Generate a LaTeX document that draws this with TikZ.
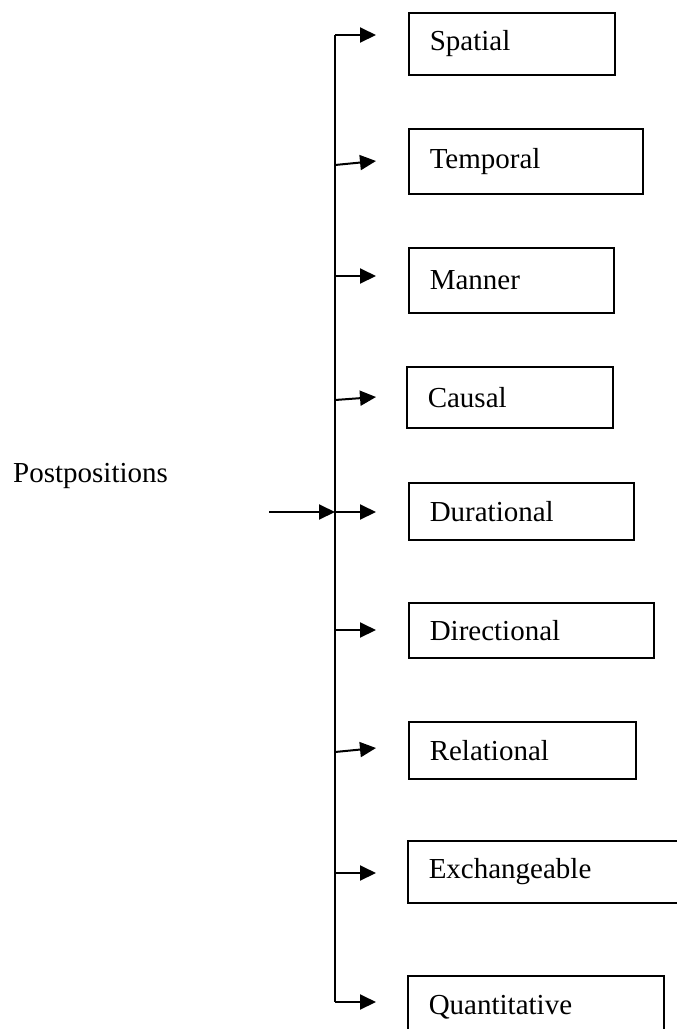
\documentclass[tikz,border=0pt]{standalone}
\usepackage{fontspec}
\setmainfont{Liberation Serif}
\usetikzlibrary{arrows.meta}
\tikzset{>={Triangle[length=16pt,width=15pt]}}
\tikzset{catbox/.style={draw, line width=1.5pt, anchor=north west, inner xsep=21pt, align=left, font=\fontsize{29}{35}\selectfont}}
\tikzset{link/.style={line width=2pt}}

\begin{document}
\begin{tikzpicture}[x=1pt,y=-1pt]
    \useasboundingbox (0,0) rectangle (677,1029);
    \node[catbox, text width=164pt, minimum height=62pt] (spatial) at (408,12) {Spatial};
    \node[catbox, text width=192pt, minimum height=65pt] (temporal) at (408,128) {Temporal};
    \node[catbox, text width=163pt, minimum height=65pt] (manner) at (408,247) {Manner};
    \node[catbox, text width=164pt, minimum height=61pt] (causal) at (406,366) {Causal};
    \node[catbox, text width=183pt, minimum height=57pt] (durational) at (408,482) {Durational};
    \node[catbox, text width=203pt, minimum height=55pt] (directional) at (408,602) {Directional};
    \node[catbox, text width=185pt, minimum height=57pt] (relational) at (408,721) {Relational};
    \node[catbox, text width=234pt, minimum height=62pt] (exchangeable) at (407,840) {Exchangeable};
    \node[catbox, text width=214pt, minimum height=63pt] (quantitative) at (407,975) {Quantitative};
    \node[font=\fontsize{29}{35}\selectfont, anchor=base west, inner sep=0pt] (postp) at (13,482) {Postpositions};
    \coordinate (in) at (269,512);
    \foreach \ya/\yb [count=\i] in {35/35, 165/161, 276/276, 400/397, 512/512, 630/630, 752/748, 873/873, 1002/1002} {
        \coordinate (a\i) at (335,\ya);
        \coordinate (t\i) at (376,\yb);
    }
    \draw[link] (a1) -- (a9);
    \draw[link, ->] (in) -- (a5);
    \foreach \i in {1,...,9}
        \draw[link, ->] (a\i) -- (t\i);
\end{tikzpicture}
\end{document}
